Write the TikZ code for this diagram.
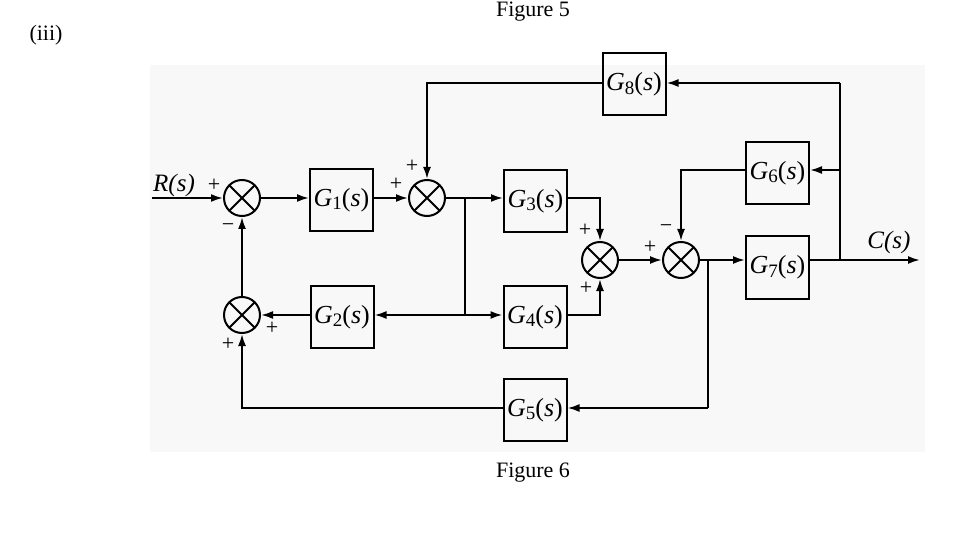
\documentclass[tikz,border=0pt]{standalone}
\usepackage{fontspec}
\setmainfont{Liberation Serif}
\usepackage{xcolor}
\usetikzlibrary{arrows.meta}
\definecolor{paleback}{RGB}{248, 248, 248}
\newcommand{\gfun}[1]{\textit{G}\raisebox{-0.3ex}{\fontsize{19}{19}\selectfont #1}(\textit{s})}

\begin{document}
\begin{tikzpicture}[x=1pt, y=-1pt,
    block/.style={draw, line width=2pt, minimum width=63pt, minimum height=62pt, inner sep=0pt, font=\fontsize{26}{30}\selectfont},
    sumj/.style={circle, draw, line width=2pt, minimum size=36pt, inner sep=0pt,
        path picture={\draw[line width=2pt] (path picture bounding box.south west) -- (path picture bounding box.north east)
            (path picture bounding box.north west) -- (path picture bounding box.south east);}},
    sig/.style={line width=2pt, -{Latex[length=12pt, width=8pt]}},
    wire/.style={line width=2pt},
    sign/.style={inner sep=0pt, font=\fontsize{22}{24}\selectfont},
    label/.style={inner sep=0pt, font=\fontsize{25}{28}\selectfont\itshape},
    caption/.style={inner sep=0pt, font=\fontsize{22}{26}\selectfont}]
    \useasboundingbox (0,0) rectangle (974,545);
    \fill[paleback] (150,65) rectangle (925,452);

    % Captions
    \node[caption, anchor=base] (fig5) at (533,17) {Figure 5};
    \node[caption] (part) at (46,35) {(iii)};
    \node[caption] (fig6) at (533,473) {Figure 6};

    % Summing points
    \node[sumj] (s1) at (242,198) {};
    \node[sumj] (s2) at (427,198) {};
    \node[sumj] (s3) at (242,315) {};
    \node[sumj] (s4) at (600,260) {};
    \node[sumj] (s5) at (681,260) {};

    % Blocks
    \node[block] (g1) at (341.5,200) {\gfun{1}};
    \node[block] (g2) at (342,317) {\gfun{2}};
    \node[block] (g3) at (535.5,201) {\gfun{3}};
    \node[block] (g4) at (535,317) {\gfun{4}};
    \node[block] (g5) at (535,410) {\gfun{5}};
    \node[block] (g6) at (777.5,173) {\gfun{6}};
    \node[block] (g7) at (777.5,267.5) {\gfun{7}};
    \node[block] (g8) at (634,84.5) {\gfun{8}};

    % Branch points
    \coordinate (in) at (152,198);
    \coordinate (out) at (920,260);
    \coordinate (b1) at (465,198);
    \coordinate (b1d) at (465,315);
    \coordinate (b2) at (708,260);
    \coordinate (b2d) at (708,408);
    \coordinate (b3) at (840,260);
    \coordinate (b3m) at (840,170);
    \coordinate (b3t) at (840,83);

    % Signals
    \node[label] (rs) at (174,185) {R(s)};
    \node[label] (cs) at (889,242) {C(s)};

    % Signs
    \node[sign] at (214,185) {+};
    \node[sign] at (228,228) {−};
    \node[sign] at (396,184) {+};
    \node[sign] at (412,166) {+};
    \node[sign] at (585,230) {+};
    \node[sign] at (586,288) {+};
    \node[sign] at (650,247) {+};
    \node[sign] at (666,229) {−};
    \node[sign] at (272,328) {+};
    \node[sign] at (228,344) {+};

    % Connections
    \draw[sig] (in) -- (s1);
    \draw[sig] (s1) -- (g1.west |- s1);
    \draw[sig] (g1.east |- s1) -- (s2);
    \draw[wire] (s2) -- (b1) -- (b1d);
    \draw[sig] (b1) -- (g3.west |- b1);
    \draw[sig] (b1d) -- (g4.west |- b1d);
    \draw[sig] (b1d) -- (g2.east |- b1d);
    \draw[sig] (g2.west |- s3) -- (s3);
    \draw[sig] (s3) -- (s1);
    \draw[sig] (g3.east |- b1) -| (s4);
    \draw[sig] (g4.east |- b1d) -| (s4);
    \draw[sig] (s4) -- (s5);
    \draw[wire] (s5) -- (b2) -- (b2d);
    \draw[sig] (b2) -- (g7.west |- b2);
    \draw[sig] (g7.east |- b2) -- (out);
    \draw[wire] (b3) -- (b3t);
    \draw[sig] (b3t) -- (g8.east |- b3t);
    \draw[sig] (b3m) -- (g6.east |- b3m);
    \draw[sig] (g6.west |- b3m) -| (s5);
    \draw[sig] (g8.west |- b3t) -| (s2);
    \draw[sig] (b2d) -- (g5.east |- b2d);
    \draw[sig] (g5.west |- b2d) -| (s3);
\end{tikzpicture}
\end{document}
